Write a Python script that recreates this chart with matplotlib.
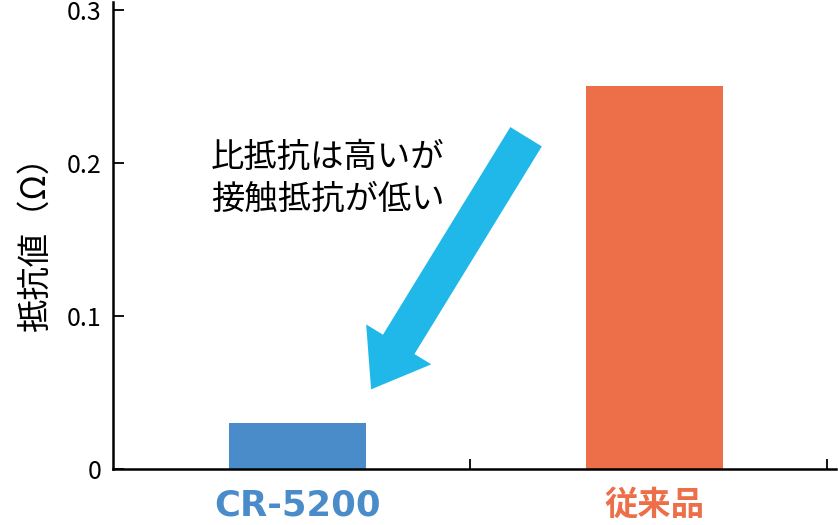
import matplotlib
matplotlib.use("Agg")
import matplotlib.pyplot as plt

plt.rcParams['font.family'] = ['Noto Sans CJK JP', 'DejaVu Sans']

# データ
categories = ["CR-5200", "従来品"]
values = [0.03, 0.25]
bar_colors = ["#4a8cc9", "#ec6f4a"]
yticks = [0, 0.1, 0.2, 0.3]
ytick_labels = ["0", "0.1", "0.2", "0.3"]
note = "比抵抗は高いが\n接触抵抗が低い"

fig = plt.figure(figsize=(8.38, 5.25), dpi=100)
ax = fig.add_axes([0.1348, 0.1067, 0.8628, 0.8895])

x = list(range(len(categories)))
ax.bar(x, values, width=0.385, color=bar_colors)

ax.set_xlim(-0.517, 1.508)
ax.set_ylim(0, 0.305)

for s in ["top", "right"]:
    ax.spines[s].set_visible(False)
for s in ["left", "bottom"]:
    ax.spines[s].set_linewidth(1.8)

ax.set_yticks(yticks)
ax.set_yticklabels(ytick_labels)
ax.tick_params(axis="y", direction="in", length=8, width=1.3, pad=8, labelsize=18)

ax.set_xticks(x)
ax.set_xticklabels(categories)
ax.tick_params(axis="x", which="major", length=0, pad=14)
# 区切りの目盛り
ax.set_xticks([0.483, 1.483], minor=True)
ax.tick_params(axis="x", which="minor", direction="in", length=7, width=1.3)

lbls = ax.get_xticklabels()
lbls[0].set_color(bar_colors[0])
lbls[0].set_fontsize(25.5)
lbls[0].set_fontweight("bold")
lbls[0].set_family("DejaVu Sans")
lbls[1].set_color(bar_colors[1])
lbls[1].set_fontsize(24)
lbls[1].set_fontweight("bold")

ax.set_ylabel("抵抗値（Ω）", fontsize=24, labelpad=10)

ax.text(-0.243, 0.19, note, fontsize=24, va="center", ha="left", linespacing=1.25)

ax.annotate("", xy=(0.206, 0.052), xytext=(0.64, 0.217),
            arrowprops=dict(arrowstyle="simple,head_width=2.75,head_length=1.9,tail_width=1.33",
                            mutation_scale=20, color="#1fb8e8", lw=0,
                            shrinkA=0, shrinkB=0))

fig.savefig("out.png", dpi=100)
